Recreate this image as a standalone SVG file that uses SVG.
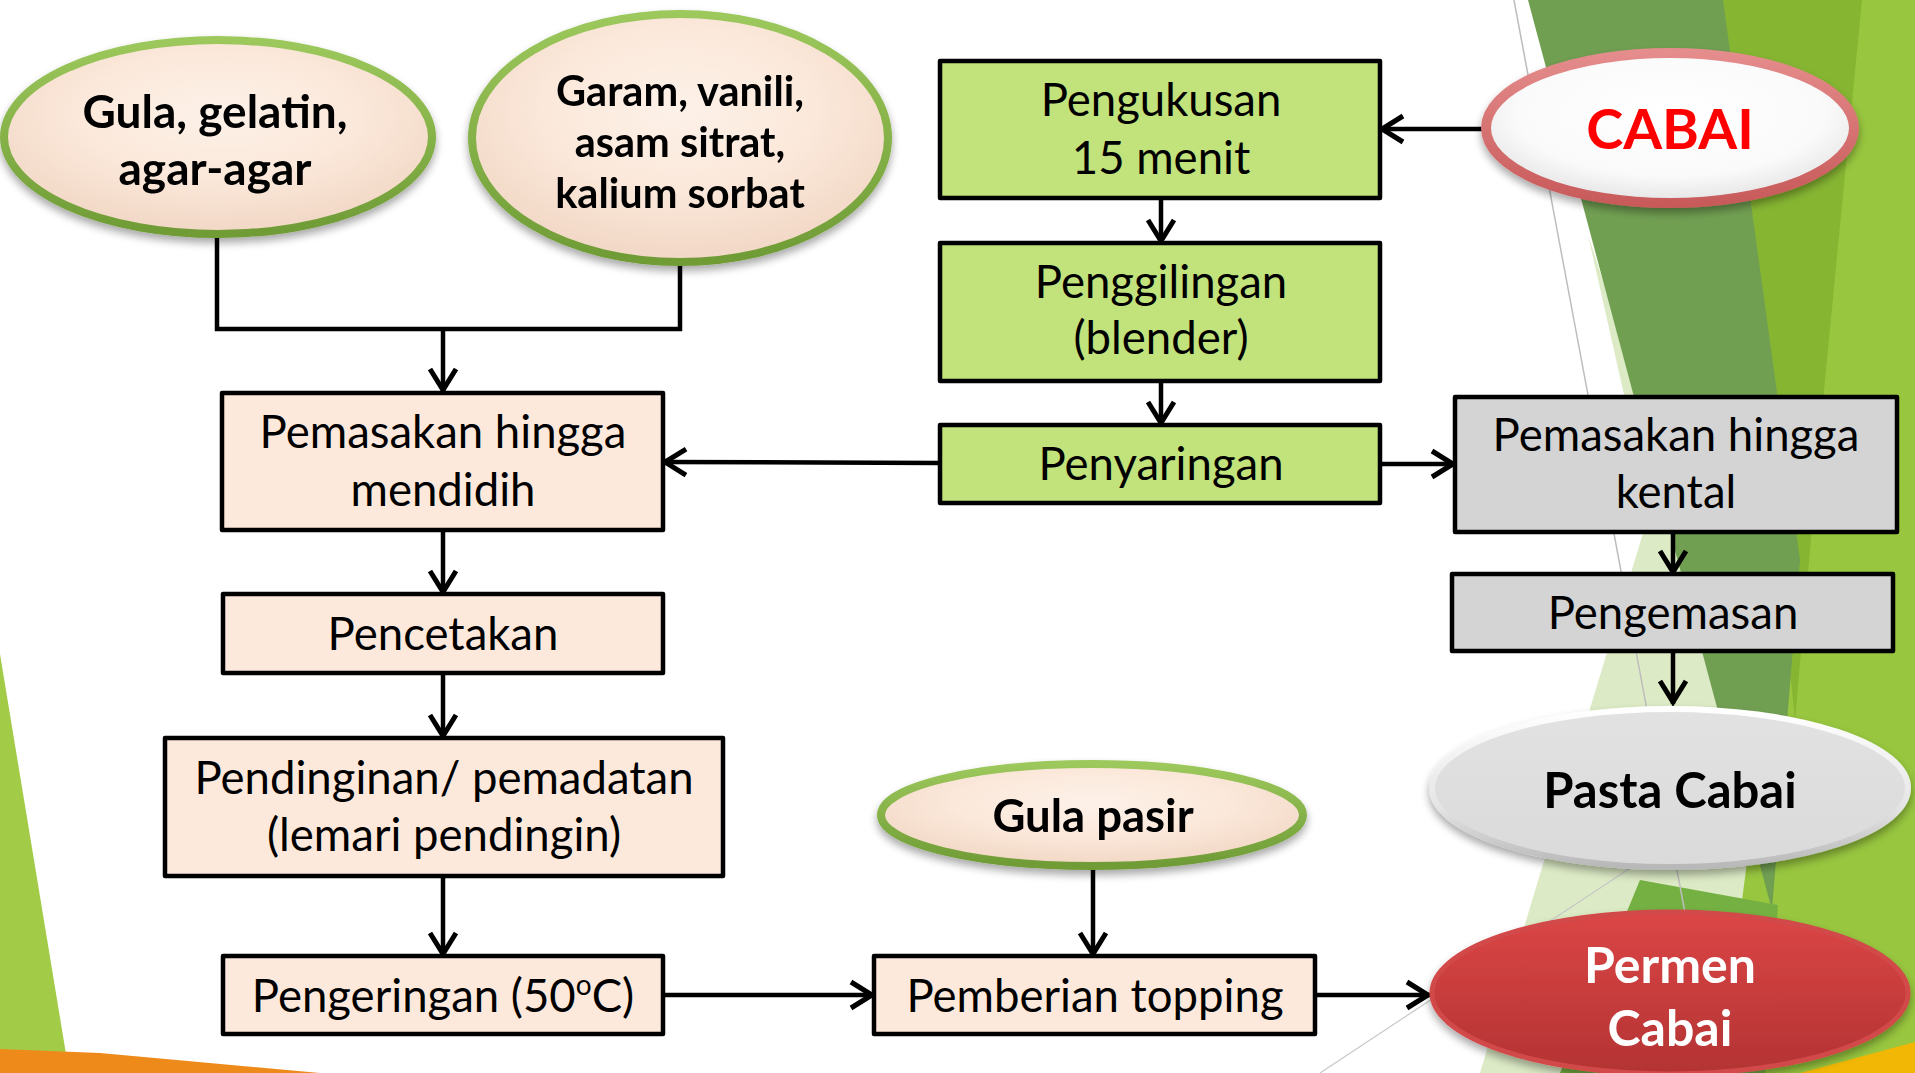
<svg xmlns="http://www.w3.org/2000/svg" width="1915" height="1073" viewBox="0 0 1915 1073">
  <style>
    .box { stroke: #000; stroke-width: 4.5; stroke-linejoin: round; }
    .peach { fill: #FCE9DC; }
    .lime { fill: #C2E27B; }
    .grey { fill: #D4D4D4; }
    .t { font-family: Lato, "Open Sans", sans-serif; font-size: 45.5px; fill: #000; text-anchor: middle; }
    .b { font-weight: 700; }
    .conn { stroke: #000; stroke-width: 4.5; fill: none; }
    .arrow { marker-end: url(#head); }
  </style>
  <defs>
    <marker id="head" markerUnits="userSpaceOnUse" markerWidth="28" markerHeight="28" refX="24" refY="12" orient="auto" overflow="visible">
      <path d="M1,-1 L22,12 L1,25" fill="none" stroke="#000" stroke-width="5"/>
    </marker>
    <filter id="shadow" x="-10%" y="-10%" width="120%" height="130%">
      <feGaussianBlur in="SourceAlpha" stdDeviation="4"/>
      <feOffset dy="5" result="b"/>
      <feComponentTransfer><feFuncA type="linear" slope="0.35"/></feComponentTransfer>
      <feMerge><feMergeNode/><feMergeNode in="SourceGraphic"/></feMerge>
    </filter>
    <radialGradient id="peachFill" cx="50%" cy="38%" r="60%">
      <stop offset="0" stop-color="#FDF1E8"/>
      <stop offset="0.55" stop-color="#FBE8DA"/>
      <stop offset="1" stop-color="#F2D8C6"/>
    </radialGradient>
    <linearGradient id="greenRim" x1="0" y1="0" x2="0" y2="1">
      <stop offset="0" stop-color="#9CC85C"/>
      <stop offset="1" stop-color="#6F9B36"/>
    </linearGradient>
    <radialGradient id="whiteFill" cx="50%" cy="40%" r="60%">
      <stop offset="0" stop-color="#FFFFFF"/>
      <stop offset="0.7" stop-color="#FAFAFA"/>
      <stop offset="1" stop-color="#E4E4E4"/>
    </radialGradient>
    <linearGradient id="redRim" x1="0" y1="0" x2="0" y2="1">
      <stop offset="0" stop-color="#E58C8C"/>
      <stop offset="1" stop-color="#C85A5A"/>
    </linearGradient>
    <linearGradient id="greyFill" x1="0" y1="0" x2="0" y2="1">
      <stop offset="0" stop-color="#E2E2E2"/>
      <stop offset="1" stop-color="#DADADA"/>
    </linearGradient>
    <linearGradient id="greyRim" x1="0" y1="0" x2="0" y2="1">
      <stop offset="0" stop-color="#FFFFFF"/>
      <stop offset="0.6" stop-color="#E6E6E6"/>
      <stop offset="1" stop-color="#B8B8B8"/>
    </linearGradient>
    <linearGradient id="redFill" x1="0" y1="0" x2="0" y2="1">
      <stop offset="0" stop-color="#DC4646"/>
      <stop offset="1" stop-color="#B33333"/>
    </linearGradient>
  </defs>

  <!-- slide backdrop: white with faceted green wedges -->
  <g id="backdrop">
    <rect width="1915" height="1073" fill="#FFFFFF"/>
    <polygon fill="#98C63F" points="1700,0 1915,0 1915,1073 1640,1073"/>
    <polygon fill="#DCEAC5" points="1588,235 1650,510 1480,1073 1720,1073 1760,760"/>
    <polygon fill="#86B532" points="1723,0 1862,0 1825,380 1795,720"/>
    <polygon fill="#719F52" points="1528,0 1723,0 1800,560 1772,910 1715,700"/>
    <polygon fill="#74B142" points="1640,880 1778,905 1765,1073 1560,1073"/>
    <line x1="1514" y1="0" x2="1715" y2="1073" stroke="#BDBDBD" stroke-width="1.5"/>
    <line x1="1320" y1="1073" x2="1700" y2="822" stroke="#C8C8C8" stroke-width="1.2"/>
    <polygon fill="#A2CB48" points="0,654 0,1056 66,1054"/>
    <polygon fill="#EE8A1A" points="0,1049 100,1053 320,1073 0,1073"/>
    <polygon fill="#F2B705" points="1800,1073 1915,1042 1915,1073"/>
  </g>

  <!-- flow connectors -->
  <g id="connectors">
    <line class="conn arrow" x1="1486" y1="129" x2="1380" y2="129"/>
    <line class="conn arrow" x1="1161" y1="198" x2="1161" y2="243"/>
    <line class="conn arrow" x1="1161" y1="381" x2="1161" y2="425"/>
    <line class="conn arrow" x1="940" y1="463" x2="663" y2="462"/>
    <line class="conn arrow" x1="1380" y1="464" x2="1455" y2="464"/>
    <line class="conn arrow" x1="1673" y1="532" x2="1673" y2="574"/>
    <line class="conn arrow" x1="1673" y1="651" x2="1673" y2="704"/>
    <polyline class="conn" points="217,237 217,329 680,329 680,265"/>
    <line class="conn arrow" x1="443" y1="329" x2="443" y2="392"/>
    <line class="conn arrow" x1="443" y1="530" x2="443" y2="594"/>
    <line class="conn arrow" x1="443" y1="673" x2="443" y2="738"/>
    <line class="conn arrow" x1="443" y1="876" x2="443" y2="956"/>
    <line class="conn arrow" x1="663" y1="995" x2="874" y2="995"/>
    <line class="conn arrow" x1="1093" y1="870" x2="1093" y2="956"/>
    <line class="conn arrow" x1="1315" y1="995" x2="1430" y2="995"/>
  </g>

  <!-- ingredient ellipses -->
  <g id="gula" filter="url(#shadow)">
    <ellipse cx="218" cy="137" rx="214" ry="97" fill="url(#peachFill)" stroke="url(#greenRim)" stroke-width="8"/>
    <text class="t b" x="215" y="128" style="font-size:46px">Gula, gelatin,</text>
    <text class="t b" x="215" y="185" style="font-size:46px">agar-agar</text>
  </g>
  <g id="garam" filter="url(#shadow)">
    <ellipse cx="680" cy="138" rx="208" ry="124" fill="url(#peachFill)" stroke="url(#greenRim)" stroke-width="8"/>
    <text class="t b" x="680" y="106" style="font-size:41.5px">Garam, vanili,</text>
    <text class="t b" x="680" y="157" style="font-size:41.5px">asam sitrat,</text>
    <text class="t b" x="680" y="208" style="font-size:41.5px">kalium sorbat</text>
  </g>
  <g id="gula-pasir" filter="url(#shadow)">
    <ellipse cx="1092" cy="815" rx="211" ry="51" fill="url(#peachFill)" stroke="url(#greenRim)" stroke-width="8"/>
    <text class="t b" x="1093" y="832">Gula pasir</text>
  </g>
  <g id="cabai" filter="url(#shadow)">
    <ellipse cx="1670" cy="128" rx="184" ry="75" fill="url(#whiteFill)" stroke="url(#redRim)" stroke-width="10"/>
    <text class="t b" x="1670" y="149" style="font-size:56px;fill:#FF0000">CABAI</text>
  </g>

  <!-- process boxes: candy line -->
  <g id="pemasakan-mendidih">
    <rect class="box peach" x="222" y="393" width="441" height="137"/>
    <text class="t" x="443" y="448">Pemasakan hingga</text>
    <text class="t" x="443" y="506">mendidih</text>
  </g>
  <g id="pencetakan">
    <rect class="box peach" x="223" y="594" width="440" height="79"/>
    <text class="t" x="443" y="650">Pencetakan</text>
  </g>
  <g id="pendinginan">
    <rect class="box peach" x="165" y="738" width="558" height="138"/>
    <text class="t" x="444" y="794">Pendinginan/ pemadatan</text>
    <text class="t" x="444" y="851">(lemari pendingin)</text>
  </g>
  <g id="pengeringan">
    <rect class="box peach" x="223" y="956" width="440" height="78"/>
    <text class="t" x="443" y="1012">Pengeringan (50<tspan dy="-17" style="font-size:28px">o</tspan><tspan dy="17">C)</tspan></text>
  </g>
  <g id="pemberian-topping">
    <rect class="box peach" x="874" y="956" width="441" height="78"/>
    <text class="t" x="1095" y="1012">Pemberian topping</text>
  </g>

  <!-- process boxes: chili preparation -->
  <g id="pengukusan">
    <rect class="box lime" x="940" y="61" width="440" height="137"/>
    <text class="t" x="1161" y="116">Pengukusan</text>
    <text class="t" x="1161" y="174">15 menit</text>
  </g>
  <g id="penggilingan">
    <rect class="box lime" x="940" y="243" width="440" height="138"/>
    <text class="t" x="1161" y="298">Penggilingan</text>
    <text class="t" x="1161" y="354">(blender)</text>
  </g>
  <g id="penyaringan">
    <rect class="box lime" x="940" y="425" width="440" height="78"/>
    <text class="t" x="1161" y="480">Penyaringan</text>
  </g>

  <!-- process boxes: paste line -->
  <g id="pemasakan-kental">
    <rect class="box grey" x="1455" y="397" width="442" height="135"/>
    <text class="t" x="1676" y="451">Pemasakan hingga</text>
    <text class="t" x="1676" y="508">kental</text>
  </g>
  <g id="pengemasan">
    <rect class="box grey" x="1452" y="574" width="441" height="77"/>
    <text class="t" x="1673" y="629">Pengemasan</text>
  </g>

  <!-- products -->
  <g id="pasta-cabai" filter="url(#shadow)">
    <ellipse cx="1670" cy="788" rx="238" ry="79" fill="url(#greyFill)" stroke="url(#greyRim)" stroke-width="6"/>
    <text class="t b" x="1670" y="808" style="font-size:49px">Pasta Cabai</text>
  </g>
  <g id="permen-cabai" filter="url(#shadow)">
    <ellipse cx="1670" cy="993" rx="238" ry="81" fill="url(#redFill)" stroke="#D24848" stroke-width="5"/>
    <text class="t b" x="1670" y="983" style="font-size:50px;fill:#FFFFFF">Permen</text>
    <text class="t b" x="1670" y="1046" style="font-size:50px;fill:#FFFFFF">Cabai</text>
  </g>
</svg>
